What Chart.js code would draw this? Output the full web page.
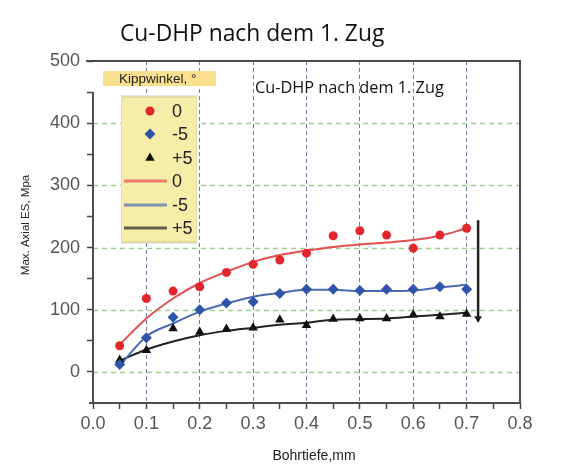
<!DOCTYPE html>
<html>
<head>
<meta charset="utf-8">
<script src="https://cdn.jsdelivr.net/npm/chart.js@4.4.1/dist/chart.umd.min.js"></script>
<style>
  html, body { margin: 0; padding: 0; background: #fff; }
  #wrap { width: 583px; height: 475px; }
</style>
</head>
<body>
<div id="wrap"><canvas id="esChart" width="583" height="475"></canvas></div>
<script>
// Bohrtiefe (mm)
const depth = [0.05, 0.1, 0.15, 0.2, 0.25, 0.3, 0.35, 0.4, 0.45, 0.5, 0.55, 0.6, 0.65, 0.7];

// gemessene Eigenspannungen je Kippwinkel (MPa)
const meas0  = [42, 118, 130, 137, 160, 173, 180, 191, 219, 227, 220, 199, 220, 231];
const measM5 = [12, 55, 88, 100, 111, 113, 126, 133, 133, 131, 133, 133, 137, 133];
const measP5 = [19, 35, 70, 64, 69, 71, 84, 75, 85, 86, 86, 92, 89, 93];

// Ausgleichskurven
const fit0  = [44, 86, 118, 143, 161, 177, 188, 195, 201, 205, 208, 212, 219, 231];
const fitM5 = [10, 57, 78, 97, 110, 121, 127, 132, 132, 130, 130, 131, 136, 140];
const fitP5 = [18, 36, 49, 59, 66, 71, 76, 79, 84, 85, 86, 89, 92, 95];

// Pfeil rechts neben den Kurven
const arrowX = [0.7215, 0.7215];
const arrowY = [244, 86];

const legendTitle = "Kippwinkel, °";
const legendLabels = ["0", "-5", "+5", "0", "-5", "+5"];
const chartTitle = "Cu-DHP nach dem 1. Zug";
const xTitle = "Bohrtiefe,mm";
const yTitle = "Max. Axial ES, Mpa";

const RED = "#e3262b", BLUE = "#2f55a8", BLACK = "#111111";
const CLEAR = "rgba(0,0,0,0)";
const SANS = "'Liberation Sans', Arial, sans-serif";
const TITLE_FONT = "'Open Sans', 'Noto Sans', sans-serif";

const toXY = (xs, ys) => xs.map((x, i) => ({ x, y: ys[i] }));
const isTenth = v => Math.abs(v * 10 - Math.round(v * 10)) < 1e-6;

function pointSet(label, ys, style, color, r) {
    return {
        label, data: toXY(depth, ys), showLine: false,
        pointStyle: style, pointRadius: r, pointBorderWidth: 0,
        backgroundColor: color, borderColor: color, order: 1
    };
}
function fitLine(label, ys, color) {
    return {
        label, data: toXY(depth, ys), pointRadius: 0, borderWidth: 2,
        borderColor: color, cubicInterpolationMode: "monotone", order: 2
    };
}

const datasets = [
    pointSet("0", meas0, "circle", RED, 4.5),
    pointSet("-5", measM5, "rectRot", BLUE, 5.5),
    pointSet("+5", measP5, "triangle", BLACK, 5.5),
    fitLine("0 fit", fit0, "#e24f50"),
    fitLine("-5 fit", fitM5, "#4a69b5"),
    fitLine("+5 fit", fitP5, "#222222"),
    {
        label: "arrow", data: toXY(arrowX, arrowY), borderColor: "#222", borderWidth: 2.5,
        pointRadius: [0, 4.5], pointStyle: "triangle", pointRotation: 180,
        pointBackgroundColor: "#222", pointBorderWidth: 0, order: 0
    }
];

// horizontal grid: light green dashes at every 100 MPa
const hGrid = {
    id: "hGrid",
    beforeDatasetsDraw(chart) {
        const { ctx, chartArea: a, scales: { y } } = chart;
        ctx.save();
        ctx.strokeStyle = "#9fd08a";
        ctx.lineWidth = 1.3;
        ctx.setLineDash([5, 4]);
        y.ticks.forEach(t => {
            if (t.value % 100 !== 0 || t.value >= 500) return;
            const py = Math.round(y.getPixelForValue(t.value)) + 0.5;
            ctx.beginPath();
            ctx.moveTo(a.left, py);
            ctx.lineTo(a.right, py);
            ctx.stroke();
        });
        ctx.restore();
    }
};

// frame, titles and the yellow legend box
const decor = {
    id: "decor",
    afterDraw(chart) {
        const { ctx, chartArea: a } = chart;
        ctx.save();

        ctx.strokeStyle = "#4d4d4d";
        ctx.lineWidth = 2;
        ctx.beginPath();
        ctx.moveTo(86, a.top); ctx.lineTo(a.right, a.top);
        ctx.lineTo(a.right, a.bottom); ctx.lineTo(89, a.bottom);
        ctx.moveTo(a.left, a.top + 31); ctx.lineTo(a.left, a.bottom);
        ctx.stroke();

        ctx.fillStyle = "#111";
        ctx.textBaseline = "alphabetic";
        ctx.textAlign = "left";
        ctx.font = "22.8px " + TITLE_FONT;
        ctx.fillText(chartTitle, 120, 41);
        ctx.font = "16.3px " + TITLE_FONT;
        ctx.fillText(chartTitle, 255, 93);

        ctx.fillStyle = "#222";
        ctx.textAlign = "center";
        ctx.textBaseline = "middle";
        ctx.font = "14px " + SANS;
        ctx.fillText(xTitle, 314, 456);
        ctx.save();
        ctx.translate(26, 225);
        ctx.rotate(-Math.PI / 2);
        ctx.font = "11.5px " + SANS;
        ctx.fillText(yTitle, 0, 0);
        ctx.restore();

        // legend header
        ctx.fillStyle = "#fae08f";
        ctx.fillRect(103, 71, 113, 15);
        ctx.fillStyle = "#222";
        ctx.textAlign = "left";
        ctx.font = "13.5px " + SANS;
        ctx.fillText(legendTitle, 119, 79);

        // legend box
        ctx.fillStyle = "#f6eea8";
        ctx.fillRect(121, 96, 76, 147);
        ctx.strokeStyle = "#9a9a8a";
        ctx.lineWidth = 1.5;
        ctx.beginPath();
        ctx.moveTo(121, 96.5); ctx.lineTo(197, 96.5);
        ctx.moveTo(121, 242.5); ctx.lineTo(197, 242.5);
        ctx.stroke();
        ctx.strokeStyle = "#e4ddb0";
        ctx.lineWidth = 1;
        ctx.strokeRect(121.5, 96.5, 75, 146);

        const rowY = [111, 134, 158, 181, 205, 228];
        ctx.font = "18px " + SANS;
        legendLabels.forEach((txt, i) => {
            const ds = chart.data.datasets[i];
            const y = rowY[i];
            if (ds.showLine === false) {
                ctx.fillStyle = ds.backgroundColor;
                Chart.helpers.drawPoint(ctx, {
                    pointStyle: ds.pointStyle, radius: ds.pointRadius, rotation: 0, borderWidth: 0
                }, 150, y);
            } else {
                ctx.save();
                ctx.globalAlpha = 0.7;
                ctx.strokeStyle = ds.borderColor;
                ctx.lineWidth = 3;
                ctx.beginPath();
                ctx.moveTo(124, y); ctx.lineTo(167, y);
                ctx.stroke();
                ctx.restore();
            }
            ctx.fillStyle = "#222";
            ctx.fillText(txt, 172, y + 1);
        });

        ctx.restore();
    }
};

new Chart(document.getElementById("esChart"), {
    type: "line",
    data: { datasets },
    options: {
        responsive: false,
        animation: false,
        events: [],
        layout: { padding: { top: 61, right: 63, bottom: 0, left: 0 } },
        plugins: { legend: { display: false }, tooltip: { enabled: false } },
        scales: {
            x: {
                type: "linear", min: 0, max: 0.8,
                afterFit: s => { s.height = 72; },
                ticks: {
                    stepSize: 0.05, autoSkip: false, maxRotation: 0, padding: 4,
                    color: "#555", font: { family: SANS, size: 18 },
                    callback: v => isTenth(v) ? v.toFixed(1) : ""
                },
                grid: {
                    color: c => (c.tick && isTenth(c.tick.value) && c.tick.value > 0.01 && c.tick.value < 0.79) ? "#6d7c9c" : CLEAR,
                    lineWidth: 1, tickLength: 6, tickWidth: 1.5, tickColor: "#444", tickBorderDash: []
                },
                border: { display: false, dash: [4, 3] }
            },
            y: {
                min: -50, max: 500,
                afterFit: s => { s.width = 93; },
                ticks: {
                    stepSize: 50, padding: 7,
                    color: "#555", font: { family: SANS, size: 18 },
                    callback: v => v % 100 === 0 ? v : ""
                },
                grid: {
                    drawOnChartArea: false,
                    tickLength: 6, tickWidth: 1.5, tickBorderDash: [],
                    tickColor: c => (c.tick && c.tick.value === -50) ? CLEAR : "#444"
                },
                border: { display: false }
            }
        }
    },
    plugins: [hGrid, decor]
});
</script>
</body>
</html>
